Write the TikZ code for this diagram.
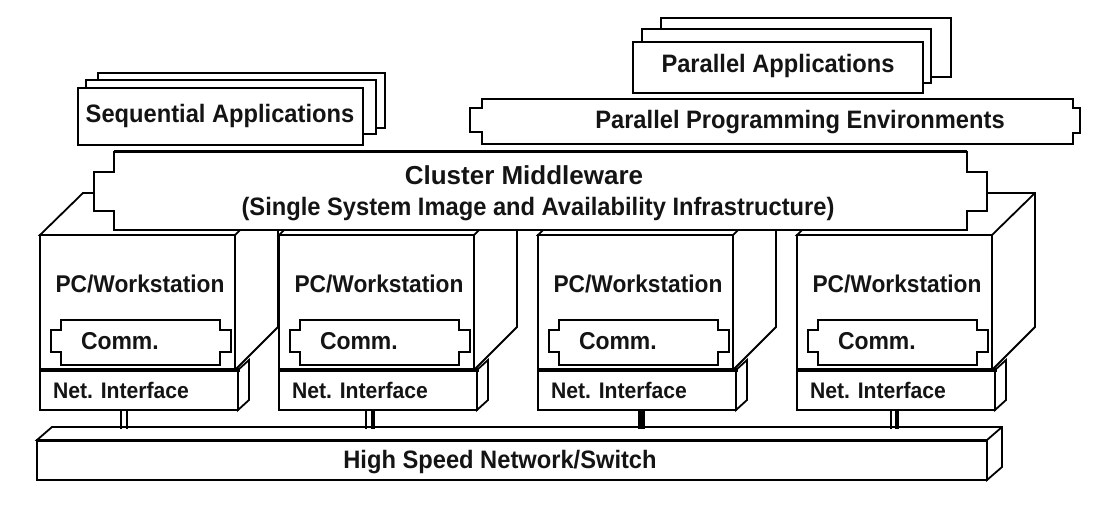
\documentclass[tikz,border=0pt]{standalone}
\usepackage{fontspec}
\setmainfont{Liberation Sans}
\usetikzlibrary{calc}
\newcommand\narrowtext[1]{\scalebox{0.94}[1]{#1}}
\begin{document}
\begin{tikzpicture}[x=1pt,y=-1pt,
  outline/.style={draw=black, line width=1.8pt, fill=white, line join=miter},
  thinoutline/.style={outline, line width=1.5pt},
  plate/.style={outline, shape=rectangle, inner sep=0pt, outer sep=0pt, anchor=north west},
  thinplate/.style={plate, line width=1.5pt},
  heavy/.style={draw=black, line width=3.6pt},
  lbl/.style={inner sep=0pt, outer sep=0pt, anchor=base, text=black!92, font=\bfseries\fontsize{25.2}{30}\selectfont},
  titlelbl/.style={lbl, font=\bfseries\fontsize{26}{30}\selectfont},
  pclbl/.style={lbl, font=\bfseries\fontsize{24.2}{28}\selectfont},
  commlbl/.style={lbl, anchor=base west, font=\bfseries\fontsize{24.4}{28}\selectfont},
  nilbl/.style={lbl, anchor=base west, font=\bfseries\fontsize{22.5}{26}\selectfont},
  thinlink/.style={draw=black, line width=1.3pt},
  boldlink/.style={draw=black, line width=4pt},
  heavylink/.style={draw=black, line width=7pt},
]
\useasboundingbox (0,0) rectangle (1108,505);

% ---------------- Sequential Applications (stack of three sheets)
\node[thinplate, minimum width=287pt, minimum height=55pt] (seq3) at (98,73) {};
\node[thinplate, minimum width=290pt, minimum height=54pt] (seq2) at (86,80) {};
\node[thinplate, minimum width=285pt, minimum height=57pt] (seq1) at (78,88) {};
\node[lbl] (seqt) at (220,123) {\narrowtext{Sequential Applications}};

% ---------------- Parallel Applications (stack of three sheets)
\node[thinplate, minimum width=290pt, minimum height=59pt] (par3) at (661,18) {};
\node[thinplate, minimum width=289pt, minimum height=54pt] (par2) at (642,29) {};
\node[thinplate, minimum width=290pt, minimum height=51pt] (par1) at (633,42) {};
\node[lbl] (part) at (778,73) {\narrowtext{Parallel Applications}};

% ---------------- Parallel Programming Environments
\draw[thinoutline] (482,99) -- (1073,99) -- (1073,108) -- (1080,108) -- (1080,133)
  -- (1073,133) -- (1073,144) -- (482,144) -- (482,132) -- (470,132) -- (470,108)
  -- (482,108) -- cycle;
\node[lbl] (ppet) at (800,129) {\narrowtext{Parallel Programming Environments}};

% ---------------- PC / Workstation boxes (3-D)
\foreach \x/\n in {40/1,279/2,538/3,797/4}{
  \draw[outline] (\x,235) -- ++(43,-42) -- ++(195,0) -- ++(0,134)
    -- (\x+195,370) -- (\x+195,235) -- cycle;
  \draw[outline] (\x+195,235) -- ++(43,-42);
  \node[plate, minimum width=195pt, minimum height=135pt] (pc\n) at (\x,235) {};
  \node[pclbl] (pct\n) at (\x+100,292) {\narrowtext{PC/Workstation}};
  \draw[outline, line width=2pt] (\x+21,320) -- (\x+180,320) -- (\x+180,330) -- (\x+191,330)
    -- (\x+191,352) -- (\x+180,352) -- (\x+180,365) -- (\x+21,365) -- (\x+21,352)
    -- (\x+11,352) -- (\x+11,330) -- (\x+21,330) -- cycle;
  \node[commlbl] (cmt\n) at (\x+41,349) {\narrowtext{Comm.}};
}

% ---------------- Cluster Middleware
\draw[outline] (114,152) -- (967,152) -- (967,172) -- (987,172) -- (987,211)
  -- (967,211) -- (967,230) -- (114,230) -- (114,211) -- (94,211) -- (94,172)
  -- (114,172) -- cycle;
\draw[heavy, line width=3pt] (114,152) -- (967,152);
\node[titlelbl] (mwt) at (524,185) {Cluster Middleware};
\node[lbl] (mws) at (538,215) {\narrowtext{(Single System Image and Availability Infrastructure)}};

% ---------------- Network interfaces
\foreach \x/\n in {40/1,279/2,538/3,797/4}{
  \draw[outline] (\x+198,370) -- ++(11,-10) -- ++(0,40) -- (\x+198,410) -- cycle;
  \node[plate, minimum width=198pt, minimum height=40pt] (ni\n) at (\x,370) {};
  \draw[heavy] (\x,370) -- (\x+200,370);
  \node[nilbl] (nit\n) at (\x+13,398) {\narrowtext{Net. Interface}};
}

% ---------------- High Speed Network / Switch
\draw[outline] (37,440) -- (52,427) -- (1002,427) -- (1002,467) -- (987,480)
  -- (987,440) -- cycle;
\draw[outline] (987,440) -- (1002,427);
\node[plate, minimum width=950pt, minimum height=40pt] (net) at (37,440) {};
\draw[heavy, line width=3pt] (net.north west) -- (net.north east);
\node[lbl] (nett) at (500,468) {\narrowtext{High Speed Network/Switch}};

% ---------------- Links from interfaces to the network
\coordinate (busline) at (0,429);
\foreach \n/\dx/\st in {1/81/thinlink,1/87/thinlink,2/87/thinlink,2/94/boldlink,
                        3/103/heavylink,4/94/thinlink,4/100/boldlink}{
  \coordinate (ln\n\dx) at ([xshift=\dx pt]ni\n.south west);
  \draw[\st] (ln\n\dx) -- (ln\n\dx |- busline);
}
\end{tikzpicture}
\end{document}
